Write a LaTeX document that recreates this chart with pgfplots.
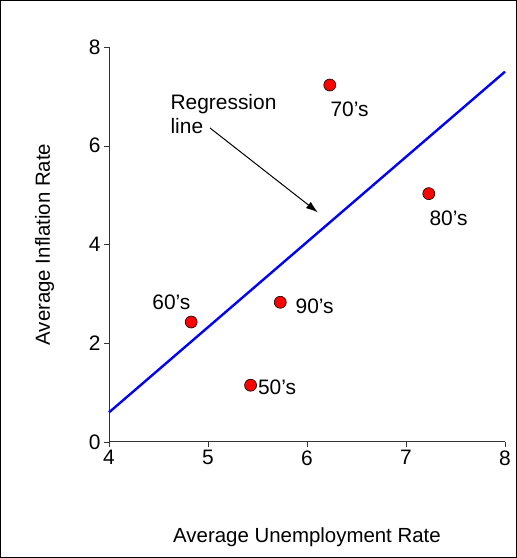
\documentclass[border=0pt]{standalone}
\usepackage{pgfplots}
\pgfplotsset{compat=1.18}
\usetikzlibrary{arrows.meta}
\usepackage{fontspec}
\setmainfont{Liberation Sans}
\begin{document}
\begin{tikzpicture}[x=1bp,y=1bp]
\useasboundingbox (0,0) rectangle (517,558);
\draw[line width=1bp] (0.5,0.5) rectangle (516.5,557.5);
\begin{axis}[at={(109bp,116bp)},anchor=origin,
 width=396bp,height=395bp,scale only axis,
 xmin=4,xmax=8,ymin=0,ymax=8,
 axis x line=bottom, axis y line=left,
 axis line style={-, line width=1pt, black!80},
 xtick={4,5,6,7,8}, ytick={0,2,4,6,8},
 tick align=outside, major tick length=5bp, tick style={black!80},
 tick label style={font=\fontsize{21}{24}\selectfont},
 /pgf/number format/assume math mode=true,
 xlabel={Average Unemployment Rate}, ylabel={Average Inflation Rate},
 label style={font=\fontsize{20.5}{24}\selectfont},
 xlabel style={yshift=-56bp}, ylabel style={yshift=28bp},
 clip=false]
\addplot[blue, line width=2.4pt] coordinates {(4,0.6) (8,7.5)};
\addplot[only marks, mark=*, mark size=6bp, mark options={fill=red, draw=black, line width=0.6pt}]
 coordinates {(5.43,1.15) (4.83,2.43) (6.23,7.23) (7.23,5.03) (5.73,2.83)};
\tikzset{lbl/.style={font=\fontsize{21}{24}\selectfont}}
\node[anchor=west,lbl] at (axis cs:5.47,1.1) {50's};
\node[anchor=south,lbl] at (axis cs:4.63,2.6) {60's};
\node[anchor=north,lbl] at (axis cs:6.43,6.95) {70's};
\node[anchor=north,lbl] at (axis cs:7.43,4.75) {80's};
\node[anchor=west,lbl] at (axis cs:5.85,2.75) {90's};
\node[align=left,anchor=north west,lbl,inner sep=0pt] at (axis cs:4.62,7.05) {Regression\\line};
\draw[-{Latex[length=12bp,width=8bp]}, black, line width=1pt] (axis cs:5.02,6.36) -- (axis cs:6.11,4.65);
\end{axis}
\end{tikzpicture}
\end{document}
